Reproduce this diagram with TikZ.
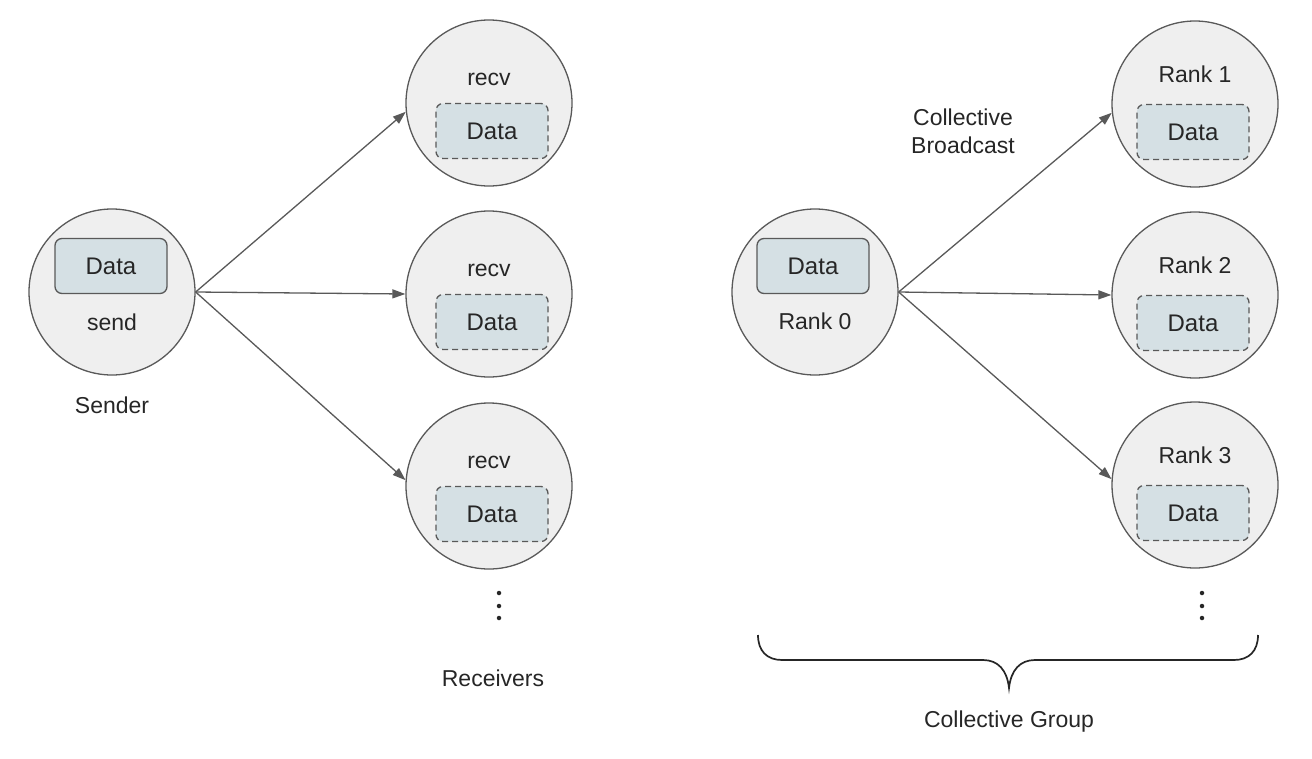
\documentclass[tikz,border=0pt]{standalone}
\usepackage{fontspec}
\setmainfont{Liberation Sans}
\usetikzlibrary{arrows.meta}
\definecolor{cfill}{HTML}{EFEFEF}
\definecolor{cline}{HTML}{595959}
\definecolor{dfill}{HTML}{D5E0E4}
\definecolor{txt}{HTML}{262626}
\begin{document}
\begin{tikzpicture}[x=1pt,y=-1pt,
 proc/.style={circle,draw=cline,fill=cfill,line width=1.3pt,minimum size=166pt,inner sep=0pt},
 databox/.style={rounded corners=7pt,draw=cline,fill=dfill,line width=1.3pt,minimum width=112pt,minimum height=55pt,inner sep=0pt,font=\fontsize{24}{28}\selectfont,text=txt},
 dbox/.style={databox,dash pattern=on 6pt off 4pt},
 lbl/.style={font=\fontsize{23}{28}\selectfont,text=txt,inner sep=0pt},
 conn/.style={draw=cline,line width=1.3pt,-{Triangle[length=13pt,width=9pt]}},
 dotmark/.style={circle,fill=txt,inner sep=0pt,minimum size=4.5pt},
 bracestyle/.style={draw=black!85,line width=1.7pt}
]
\useasboundingbox (0,0) rectangle (1312,758);

% ---------- left: point-to-point ----------
\node[proc] (s) at (112,292) {};
\node[databox] (sd) at (111,266) {Data};
\node[lbl] (sl) at (112,322) {send};

\node[proc] (r1) at (489,103) {};
\node[lbl] (r1l) at (489,79) {recv};
\node[dbox] (r1d) at (492,131) {Data};

\node[proc] (r2) at (489,294) {};
\node[lbl] (r2l) at (489,270) {recv};
\node[dbox] (r2d) at (492,322) {Data};

\node[proc] (r3) at (489,486) {};
\node[lbl] (r3l) at (489,462) {recv};
\node[dbox] (r3d) at (492,514) {Data};

\draw[conn] (s.east) -- (r1.186);
\draw[conn] (s.east) -- (r2.west);
\draw[conn] (s.east) -- (r3.176);

\node[dotmark] (ld1) at (499,593) {};
\node[dotmark] (ld2) at (499,606) {};
\node[dotmark] (ld3) at (499,618) {};

\node[lbl] (sender) at (112,405) {Sender};
\node[lbl] (receivers) at (493,678) {Receivers};

% ---------- right: collective ----------
\node[proc] (k0) at (815,292) {};
\node[databox] (k0d) at (813,266) {Data};
\node[lbl] (k0l) at (815,321) {Rank 0};

\node[proc] (k1) at (1195,104) {};
\node[lbl] (k1l) at (1195,74) {Rank 1};
\node[dbox] (k1d) at (1193,132) {Data};

\node[proc] (k2) at (1195,295) {};
\node[lbl] (k2l) at (1195,265) {Rank 2};
\node[dbox] (k2d) at (1193,323) {Data};

\node[proc] (k3) at (1195,485) {};
\node[lbl] (k3l) at (1195,455) {Rank 3};
\node[dbox] (k3d) at (1193,513) {Data};

\draw[conn] (k0.east) -- (k1.186);
\draw[conn] (k0.east) -- (k2.west);
\draw[conn] (k0.east) -- (k3.176);

\node[lbl,align=center] (cb) at (963,131) {Collective\\Broadcast};

\node[dotmark] (rd1) at (1202,593) {};
\node[dotmark] (rd2) at (1202,606) {};
\node[dotmark] (rd3) at (1202,618) {};

\draw[bracestyle] (758,635) .. controls (758,651) and (767,660) .. (782,660)
  -- (983,660) .. controls (998,660) and (1007,670) .. (1009,688)
  .. controls (1011,670) and (1020,660) .. (1035,660)
  -- (1234,660) .. controls (1249,660) and (1258,651) .. (1258,635);

\node[lbl] (cg) at (1009,722) {Collective Group};
\end{tikzpicture}
\end{document}
